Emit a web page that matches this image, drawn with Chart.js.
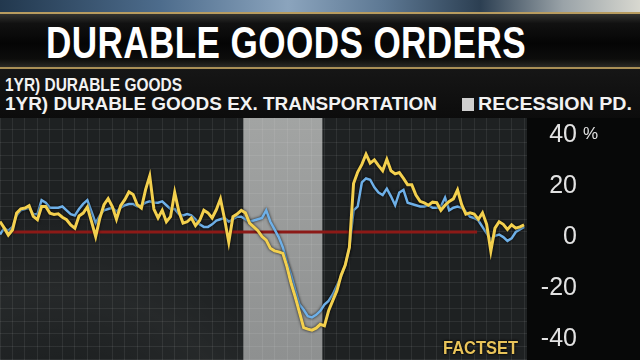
<!DOCTYPE html>
<html><head><meta charset="utf-8">
<script src="https://cdn.jsdelivr.net/npm/chart.js@4.4.1/dist/chart.umd.min.js"></script>
<style>
html,body{margin:0;padding:0;width:640px;height:360px;overflow:hidden;background:#070808;}
#top{position:absolute;left:0;top:0;width:640px;height:12px;background:linear-gradient(90deg,#22384e 0%,#4d6c8c 25%,#8ba4bd 45%,#5d7893 60%,#2c3f52 75%,#9aa3a8 88%,#d8d8d0 100%);}
#bar{position:absolute;left:0;top:12px;width:640px;height:57px;box-sizing:border-box;border-top:2px solid #b89c60;border-bottom:2px solid #a98f56;background:linear-gradient(#333330 0%,#111 18%,#050505 55%,#0d0d0c 85%,#2a2925 100%);}
#legend{position:absolute;left:0;top:69px;width:640px;height:49px;background:linear-gradient(#161616,#0c0c0c);}
.t{position:absolute;white-space:nowrap;transform-origin:0 0;color:#fff;}
#title{left:46px;top:17px;font:bold 45px "Liberation Sans Narrow","Liberation Sans",sans-serif;letter-spacing:0.5px;}
.lg{font:bold 18px "Liberation Sans Narrow","Liberation Sans",sans-serif;color:#f2f2f2;}
#l1{left:5px;top:75px;}
#l2{left:5px;top:94px;}
#box{position:absolute;left:462px;top:98px;width:12px;height:13px;background:#cfcfcf;}
#l3{left:478px;top:94px;}
#wrap{position:absolute;left:0;top:118px;width:640px;height:242px;}
#pct{left:583px;top:124px;font:17px "Liberation Sans",sans-serif;color:#e2e2e2;}
#src{left:443px;top:338px;font:bold 18px "Liberation Sans Narrow","Liberation Sans",sans-serif;color:#e8c35a;text-shadow:0 0 2px #000,0 0 3px #000;}
</style></head>
<body>
<div id="top"></div>
<div id="bar"></div>
<div id="legend"></div>
<div id="wrap"><canvas id="c" width="640" height="242"></canvas></div>
<div class="t" id="title" data-w="480">DURABLE GOODS ORDERS</div>
<div class="t lg" id="l1" data-w="177">1YR) DURABLE GOODS</div>
<div class="t lg" id="l2" data-w="432">1YR) DURABLE GOODS EX. TRANSPORTATION</div>
<div id="box"></div>
<div class="t lg" id="l3" data-w="154">RECESSION PD.</div>
<div class="t" id="pct">%</div>
<div class="t" id="src" data-w="75">FACTSET</div>
<script>
// ---- data (monthly, year-over-year % change) ----
const startMonth = '2003-01';
const durableGoods = [
 4.1,1.6,-1.2,0.8,7.4,9.1,9.4,10.3,6.1,4.8,
 10.0,10.0,7.4,6.9,7.1,5.8,4.8,2.8,1.5,6.3,
 7.4,9.8,4.1,-1.8,5.4,10.7,13.1,10.0,5.0,10.3,
 12.7,15.7,14.7,10.7,9.4,16.6,22.0,9.0,5.5,8.5,
 4.0,6.0,15.5,8.0,3.5,4.0,5.5,2.5,4.5,8.5,
 7.5,5.5,8.7,13.0,5.0,-4.0,6.0,7.0,8.5,7.5,
 3.5,2.0,0.5,-1.8,-3.2,-6.4,-7.4,-7.8,-8.4,-13.7,
 -20.2,-25.6,-31.5,-37.5,-38.1,-38.5,-37.7,-36.2,-36.8,-30.9,
 -26.9,-23.0,-17.0,-13.0,-6.0,19.0,23.5,26.5,30.5,27.0,
 28.3,26.0,24.0,28.5,24.0,22.8,23.3,21.0,18.5,18.5,
 14.5,12.0,11.4,10.5,11.7,11.5,8.5,10.5,12.0,13.0,
 16.5,10.7,7.0,7.5,7.0,5.0,7.5,3.0,-7.5,1.5,
 4.0,3.0,1.0,2.8,1.5,2.0,2.8
];
const exTransportation = [
 -1.0,1.5,0.5,2.0,6.5,8.5,9.0,9.5,7.0,7.0,
 12.5,11.5,9.5,9.5,9.5,10.0,8.5,7.0,6.5,9.0,
 11.0,12.5,8.0,3.5,6.5,8.5,9.0,9.5,8.0,9.5,
 10.5,11.0,11.0,10.0,10.5,11.5,12.0,11.5,11.5,12.0,
 10.5,9.0,9.0,7.0,6.5,7.0,6.5,5.0,3.0,2.0,
 2.0,3.0,4.5,5.0,5.5,4.0,5.0,6.0,6.0,5.0,
 4.0,4.5,5.0,5.5,8.5,4.0,1.0,-2.0,-6.0,-12.0,
 -17.0,-23.0,-28.5,-30.5,-33.0,-33.5,-32.5,-31.0,-28.5,-27.0,
 -24.5,-21.0,-17.5,-13.0,-6.0,8.5,10.0,19.5,21.0,20.5,
 17.5,15.5,14.5,17.0,14.0,10.5,15.5,16.5,11.5,11.0,
 10.5,10.0,10.0,10.5,9.5,9.5,10.0,13.5,8.5,9.5,
 10.0,9.5,8.0,6.0,5.5,4.5,2.0,-0.5,-3.0,-1.5,
 -1.0,-2.0,-3.5,-2.5,0.0,1.0,2.0
];
const yTickLabels = [-40, -20, 0, 20, 40];
const recessionPeriod = ['2007-12', '2009-06'];
const zeroLineSpan = [3.1, 114.7];   // month-index range of the red zero line

// month labels
const months = durableGoods.map((_, i) => {
  const [y, m] = startMonth.split('-').map(Number);
  const t = (y * 12 + (m - 1)) + i;
  return Math.floor(t / 12) + '-' + String(t % 12 + 1).padStart(2, '0');
});
const idx = s => months.indexOf(s);

function fitText() {
  document.querySelectorAll('[data-w]').forEach(el => {
    el.style.transform = '';
    const w = el.getBoundingClientRect().width;
    el.style.transform = 'scaleX(' + (Number(el.dataset.w) / w) + ')';
  });
}
fitText();

const bgPlugin = {
  id: 'bg',
  beforeDraw(chart) {
    const {ctx, chartArea: a, scales: {x}} = chart;
    ctx.save();
    ctx.fillStyle = '#1e2122';
    ctx.fillRect(a.left, a.top, a.right - a.left, a.bottom - a.top);
    const g = ctx.createRadialGradient(a.left + 60, a.bottom + 120, 120, a.left + 60, a.bottom + 120, 260);
    g.addColorStop(0, 'rgba(255,255,255,0)');
    g.addColorStop(0.5, 'rgba(255,255,255,0.035)');
    g.addColorStop(1, 'rgba(255,255,255,0)');
    ctx.fillStyle = g;
    ctx.fillRect(a.left, a.top, a.right - a.left, a.bottom - a.top);
    const x0 = x.getPixelForValue(idx(recessionPeriod[0]) - 0.5);
    const x1 = x.getPixelForValue(idx(recessionPeriod[1]) + 0.5);
    const gb = ctx.createLinearGradient(0, a.top, 0, a.bottom);
    gb.addColorStop(0, '#a2a4a3');
    gb.addColorStop(1, '#8e9090');
    ctx.fillStyle = gb;
    ctx.fillRect(x0, a.top, x1 - x0, a.bottom - a.top);
    ctx.restore();
  }
};
const shadowPlugin = {
  id: 'shadow',
  beforeDatasetDraw(chart, args) {
    if (args.index > 1) return;
    const ctx = chart.ctx;
    ctx.save();
    ctx.shadowColor = 'rgba(0,0,0,0.85)';
    ctx.shadowBlur = 3;
  },
  afterDatasetDraw(chart, args) {
    if (args.index > 1) return;
    chart.ctx.restore();
  }
};

new Chart(document.getElementById('c'), {
  type: 'line',
  data: {
    datasets: [
      {label: '1YR) DURABLE GOODS', data: durableGoods.map((v, i) => ({x: i, y: v})),
       borderColor: '#f3d04e', borderWidth: 3, pointRadius: 0, tension: 0},
      {label: '1YR) DURABLE GOODS EX. TRANSPORTATION', data: exTransportation.map((v, i) => ({x: i, y: v})),
       borderColor: '#6eb0e8', borderWidth: 2.5, pointRadius: 0, tension: 0},
      {label: 'zero', data: zeroLineSpan.map(v => ({x: v, y: 0})),
       borderColor: '#8c1a17', borderWidth: 3, pointRadius: 0}
    ]
  },
  options: {
    responsive: false, animation: false,
    layout: {padding: {top: 0, right: 63, bottom: 0, left: 0}},
    plugins: {legend: {display: false}, tooltip: {enabled: false}},
    scales: {
      x: {type: 'linear', min: 0, max: 126.7,
          afterBuildTicks: s => { const t = []; for (let v = 0; v <= 126; v += 3) t.push({value: v}); s.ticks = t; },
          ticks: {display: false}, grid: {color: 'rgba(255,255,255,0.075)', drawTicks: false}, border: {display: false}},
      y: {position: 'right', min: -50.2, max: 44.7,
          afterBuildTicks: s => { const t = []; for (let v = -50; v <= 40; v += 5) t.push({value: v}); s.ticks = t; },
          afterFit: s => { s.width = 50; s.paddingTop = 0; s.paddingBottom = 0; },
          ticks: {callback: v => yTickLabels.includes(v) ? String(v) : '', color: '#e2e2e2',
                  font: {family: 'Liberation Sans', size: 25}, crossAlign: 'far', padding: 14, labelOffset: 5, autoSkip: false},
          grid: {color: 'rgba(255,255,255,0.075)', drawTicks: false}, border: {display: false}}
    }
  },
  plugins: [bgPlugin, shadowPlugin]
});
</script>
</body></html>
